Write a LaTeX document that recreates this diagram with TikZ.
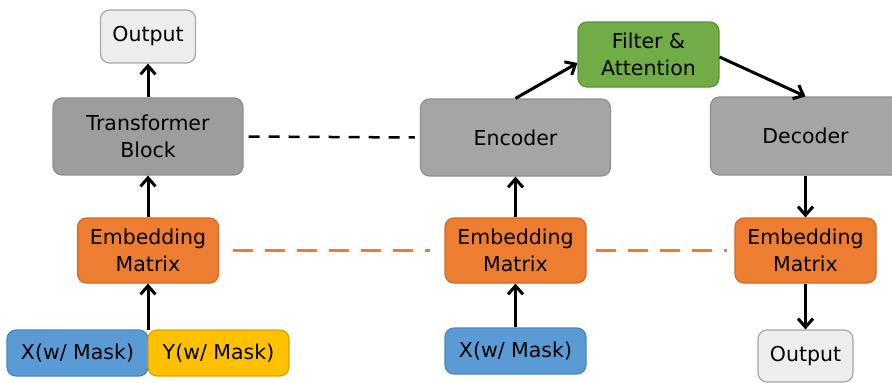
\documentclass[tikz,border=0pt]{standalone}
\usepackage{fontspec}
\setmainfont{DejaVu Sans}
\usetikzlibrary{arrows.meta,calc}

\definecolor{outfill}{HTML}{EDEDED}
\definecolor{outline}{HTML}{A6A6A6}
\definecolor{grayfill}{HTML}{A5A5A5}
\definecolor{grayline}{HTML}{8E8E8E}
\definecolor{orangefill}{HTML}{ED7D31}
\definecolor{orangeline}{HTML}{D06A25}
\definecolor{bluefill}{HTML}{5B9BD5}
\definecolor{blueline}{HTML}{4A86BD}
\definecolor{yellowfill}{HTML}{FFC000}
\definecolor{yellowline}{HTML}{D9A400}
\definecolor{greenfill}{HTML}{70AD47}
\definecolor{greenline}{HTML}{5B923A}

\tikzset{
  box/.style={rounded corners=9pt, line width=1.2pt, align=center,
    inner sep=0pt, font=\fontsize{20.5}{26.5}\selectfont, text=black},
  outbox/.style={box, fill=outfill, draw=outline, minimum width=95pt, minimum height=53pt},
  graybox/.style={box, fill=grayfill, draw=grayline, minimum width=190pt, minimum height=77pt},
  embbox/.style={box, fill=orangefill, draw=orangeline, minimum width=141pt, minimum height=65pt},
  inbox/.style={box, minimum width=141pt, minimum height=46pt},
  flow/.style={line width=3pt, -{Straight Barb[length=8.5pt,width=15pt,line width=3pt]}},
  link/.style={line width=2.5pt, dash pattern=on 11pt off 9pt},
  tie/.style={line width=3pt, draw=orangefill, dash pattern=on 20pt off 12pt},
}

\begin{document}
\begin{tikzpicture}[x=1pt, y=-1pt]
  \useasboundingbox (0,0) rectangle (892,383);
  \clip (0,0) rectangle (892,383);

  % left column: masked language model
  \node[outbox] (out1) at (148,36.5) {Output};
  \node[graybox, fill=grayfill!95!black] (tb) at (148,136.5) {Transformer\\Block};
  \node[embbox] (em1) at (148,250.5) {Embedding\\Matrix};
  \node[inbox, fill=bluefill, draw=blueline] (x1) at (77.5,353) {X(w/ Mask)};
  \node[inbox, fill=yellowfill, draw=yellowline] (y1) at (218.5,353) {Y(w/ Mask)};
  \coordinate (join1) at (148,330);

  % right part: encoder / decoder
  \node[graybox] (enc) at (515.5,137.5) {Encoder};
  \node[box, fill=greenfill, draw=greenline, minimum width=141pt, minimum height=65pt]
    (filt) at (648.5,54.5) {Filter \&\\Attention};
  \node[graybox, minimum height=78pt] (dec) at (805.5,136) {Decoder};
  \node[embbox] (em2) at (515.5,250.5) {Embedding\\Matrix};
  \node[inbox, fill=bluefill, draw=blueline] (x2) at (515.5,351) {X(w/ Mask)};
  \node[embbox] (em3) at (805.5,250.5) {Embedding\\Matrix};
  \node[outbox, minimum height=52pt] (out2) at (805.5,356) {Output};

  % data flow
  \draw[flow] (tb.north) -- (out1.south);
  \draw[flow] (em1.north) -- (tb.south);
  \draw[flow] (join1) -- (em1.south);
  \draw[flow] (x2.north) -- (em2.south);
  \draw[flow] (em2.north) -- (enc.south);
  \draw[flow] (enc.north) -- ($(filt.west)+(0,8.5)$);
  \draw[flow] ($(filt.east)+(0,2.5)$) -- (dec.north);
  \draw[flow] (dec.south) -- (em3.north);
  \draw[flow] (em3.south) -- (out2.north);

  % shared weights
  \draw[link] ($(tb.east)+(5,0)$) -- ($(enc.west)+(-5,0)$);
  \draw[tie] ($(em1.east)+(14,0)$) -- ($(em2.west)+(-14,0)$);
  \draw[tie] ($(em2.east)+(9,0)$) -- ($(em3.west)+(-7,0)$);
\end{tikzpicture}
\end{document}
